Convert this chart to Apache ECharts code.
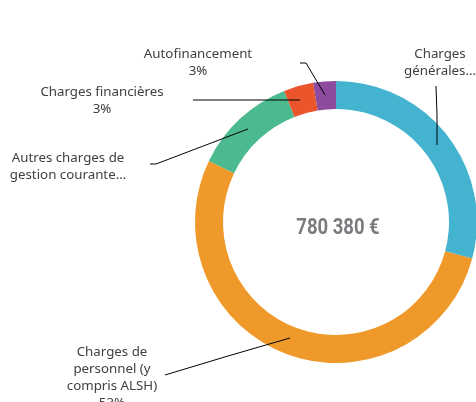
<!DOCTYPE html>
<html>
<head>
<meta charset="utf-8">
<script src="https://cdn.jsdelivr.net/npm/echarts@6/dist/echarts.min.js"></script>
<style>
  html, body { margin: 0; padding: 0; background: #fff; }
  #chart { width: 476px; height: 402px; }
</style>
</head>
<body>
<div id="chart"></div>
<script>
// postes de dépenses (ordre horaire depuis midi)
var categories = ['Charges générales', 'Charges de personnel (y compris ALSH)', 'Autres charges de gestion courante', 'Charges financières', 'Autofinancement'];
var labelTexts = ['Charges\ngénérales…', 'Charges de\npersonnel (y\ncompris ALSH)\n53%', 'Autres charges de\ngestion courante…', 'Charges financières\n3%', 'Autofinancement\n3%'];
var values = [29.2, 53.0, 11.9, 3.4, 2.6]; // en %
var colors = ['#44b3cf', '#f0992b', '#4bba8f', '#ea552b', '#8c4b9d'];
var totalText = '780 380 €';

// position des étiquettes (centre) et tracé des lignes de rappel
var labelPos = [[440, 63], [112, 378], [68, 167], [102, 101], [198, 63]];
var linePts = [
  [[437, 145], [437, 115], [436, 86]],
  [[290, 338], [228, 356], [165, 375]],
  [[248, 129], [156, 164], [150, 164]],
  [[300, 100], [250, 100], [193, 100]],
  [[325, 95], [306, 63], [300, 63]]
];

var pieData = categories.map(function (c, i) {
  return { name: c, value: values[i], itemStyle: { color: colors[i] } };
});

var chart = echarts.init(document.getElementById('chart'));
chart.setOption({
  animation: false,
  graphic: [
    {
      type: 'text',
      x: 338,
      y: 228,
      scaleX: 0.84,
      style: {
        text: totalText,
        textAlign: 'center',
        textVerticalAlign: 'middle',
        fontFamily: 'Roboto, sans-serif',
        fontWeight: 'bold',
        fontSize: 22,
        fill: '#7a7b7e'
      }
    }
  ],
  series: [
    {
      // anneau
      type: 'pie',
      center: [336, 222],
      radius: [113, 141],
      startAngle: 90,
      clockwise: true,
      label: { show: false },
      labelLine: { show: false },
      emphasis: { disabled: true },
      data: pieData
    },
    {
      // étiquettes + lignes de rappel, au-dessus de l'anneau
      type: 'pie',
      z: 5,
      silent: true,
      center: [336, 222],
      radius: [113, 141],
      startAngle: 90,
      clockwise: true,
      avoidLabelOverlap: false,
      itemStyle: { color: 'rgba(0,0,0,0)' },
      label: {
        show: true,
        formatter: function (p) { return labelTexts[p.dataIndex]; },
        fontFamily: '"Noto Sans", sans-serif',
        fontSize: 13.3,
        lineHeight: 17,
        color: '#404040',
        align: 'center'
      },
      labelLine: {
        show: true,
        lineStyle: { color: '#000', width: 1 }
      },
      labelLayout: function (p) {
        var i = p.dataIndex;
        return {
          x: labelPos[i][0],
          y: labelPos[i][1],
          align: 'center',
          verticalAlign: 'middle',
          labelLinePoints: linePts[i]
        };
      },
      emphasis: { disabled: true },
      data: categories.map(function (c, i) {
        return { name: c, value: values[i] };
      })
    }
  ]
});
</script>
</body>
</html>
